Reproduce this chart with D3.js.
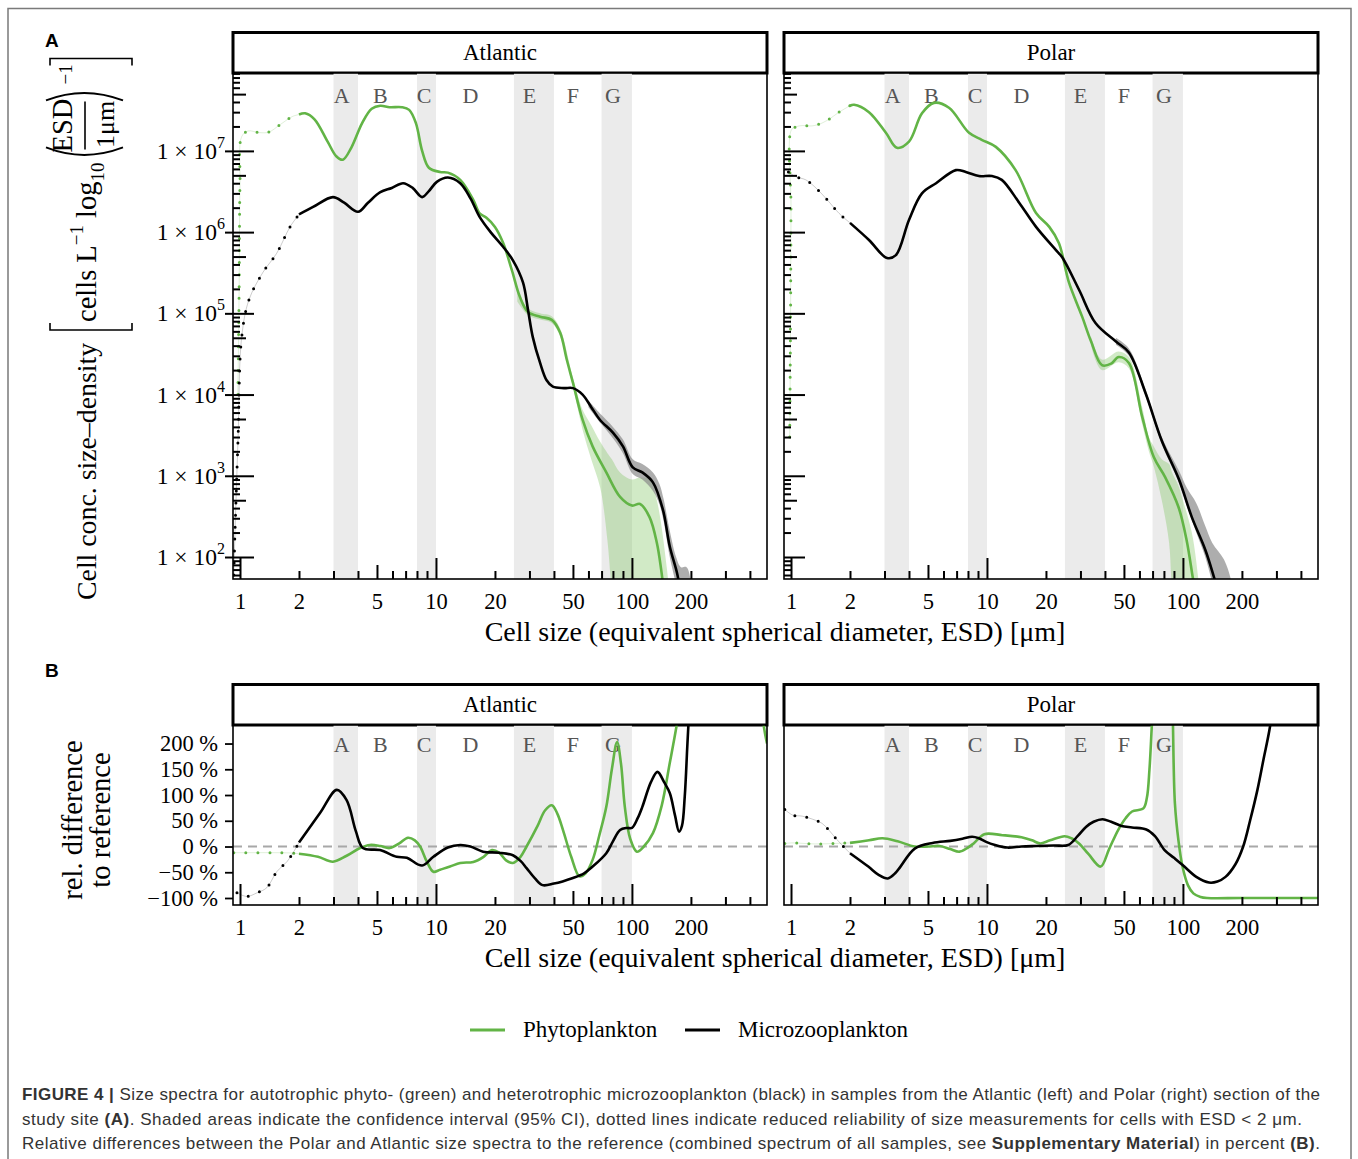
<!DOCTYPE html>
<html>
<head>
<meta charset="utf-8">
<script src="https://cdn.jsdelivr.net/npm/d3@7"></script>
<style>
  body { margin: 0; background: #fff; }
</style>
</head>
<body>
<svg id="fig"></svg>
<script>
// ---------- data ----------
const regions = ["Atlantic", "Polar"];
const sizeClasses = ["A", "B", "C", "D", "E", "F", "G"];
const classLabelAt = [3.3, 5.2, 8.7, 15, 30, 50, 80];
const shadedBands = [[3, 4], [8, 10], [25, 40], [70, 100]];

const xTickLabels = [1, 2, 5, 10, 20, 50, 100, 200];
const xDecadeTicks = [1, 10, 100];
const xMidTicks = [5, 50];
const xMinorTicks = [2, 3, 4, 6, 7, 8, 9, 20, 30, 40, 60, 70, 80, 90, 200, 300, 400];
const yTicksA = [1e2, 1e3, 1e4, 1e5, 1e6, 1e7];
const yTicksB = [-100, -50, 0, 50, 100, 150, 200];

// panel A: [ESD µm, cells L-1]
const atlPhytoDotted = [[0.975, 1e4], [0.99, 2e5], [1.0, 4e6], [1.02, 1.5e7], [1.1, 1.76e7], [1.25, 1.68e7], [1.4, 1.7e7], [1.6, 2.1e7], [1.85, 2.65e7], [2.0, 2.8e7]];
const atlPhytoSolid = [[2.0, 2.8e7], [2.15, 2.9e7], [2.4, 2.45e7], [2.8, 1.3e7], [3.1, 8.6e6], [3.35, 7.8e6], [3.7, 1.1e7], [4.2, 2.2e7], [4.7, 3.3e7], [5.2, 3.6e7], [5.8, 3.45e7], [6.7, 3.45e7], [7.3, 3.2e7], [7.9, 2.2e7], [8.5, 1.0e7], [9.2, 6.2e6], [10.5, 5.5e6], [11.5, 5.4e6], [13.3, 4.4e6], [15.5, 2.5e6], [16.7, 1.7e6], [18.1, 1.5e6], [20, 1.16e6], [22, 7.4e5], [24.4, 3.4e5], [26.8, 1.6e5], [29.5, 1.04e5], [34, 9.1e4], [39, 8.3e4], [43, 5.8e4], [46.5, 2.7e4], [50, 1.4e4], [56, 4.9e3], [63, 2.3e3], [74, 1.1e3], [87, 5.5e2], [100, 4.3e2], [110, 4.5e2], [123, 3.1e2], [134, 1.5e2], [141, 70], [145, 40]];
const atlPhytoCI = [[26, 1.4e5, 1.8e5], [29.5, 0.95e5, 1.15e5], [34, 8.4e4, 1.0e5], [39, 7.6e4, 9.2e4], [43, 5.2e4, 6.5e4], [50, 1.25e4, 1.6e4], [56, 3.7e3, 6.5e3], [62, 1.6e3, 4.2e3], [69, 7e2, 2.6e3], [75, 1.6e2, 1.9e3], [79, 40, 1.6e3], [87, 10, 1.1e3], [100, 10, 9.0e2], [110, 10, 9.5e2], [123, 10, 9.0e2], [134, 10, 5.0e2], [151, 10, 70], [158, 10, 20]];
const atlMicroDotted = [[0.93, 60], [0.94, 1.6e2], [0.977, 2.8e3], [1.02, 5.1e4], [1.11, 1.46e5], [1.31, 3.2e5], [1.54, 5.5e5], [1.8, 1.16e6], [2.0, 1.65e6]];
const atlMicroSolid = [[2.0, 1.65e6], [2.36, 2.04e6], [2.98, 2.7e6], [3.4, 2.3e6], [4.0, 1.78e6], [4.5, 2.3e6], [5.2, 3.1e6], [5.95, 3.5e6], [6.8, 4.0e6], [7.6, 3.5e6], [8.5, 2.7e6], [9.2, 3.2e6], [10.1, 4.15e6], [11.5, 4.7e6], [13.3, 4.0e6], [15, 2.6e6], [16.7, 1.54e6], [19, 1.0e6], [22, 6.6e5], [24.7, 4.5e5], [27.8, 2.4e5], [29.5, 1.1e5], [31.2, 5.1e4], [34, 2.45e4], [36.7, 1.5e4], [39.5, 1.25e4], [45, 1.2e4], [50, 1.2e4], [56, 1.0e4], [62, 7e3], [68.6, 4.9e3], [80, 3.4e3], [90, 2.3e3], [101, 1.27e3], [113, 1.1e3], [128, 8.3e2], [144, 3.8e2], [156, 1.35e2], [170, 63], [176, 40]];
const atlMicroCI = [[60, 7.0e3, 8.4e3], [70, 4.3e3, 5.6e3], [80, 2.9e3, 4.0e3], [90, 1.9e3, 2.8e3], [101, 1.05e3, 1.6e3], [113, 9.0e2, 1.4e3], [128, 6.5e2, 1.1e3], [138, 4.5e2, 8.0e2], [145, 2.8e2, 5.2e2], [156, 1.0e2, 2.1e2], [168, 45, 1.0e2], [178, 20, 75], [190, 10, 75], [200, 10, 50], [205, 10, 30]];

const polPhytoDotted = [[0.985, 3e3], [0.995, 1e5], [1.0, 2e6], [1.003, 1.8e7], [1.06, 1.98e7], [1.14, 2.05e7], [1.28, 2.03e7], [1.44, 2.2e7], [1.6, 2.55e7], [1.76, 3.0e7], [2.0, 3.6e7]];
const polPhytoSolid = [[2.0, 3.6e7], [2.1, 3.7e7], [2.5, 3.0e7], [3.05, 1.67e7], [3.47, 1.09e7], [4.0, 1.3e7], [4.66, 2.9e7], [5.36, 3.9e7], [6.4, 3.4e7], [8.1, 1.67e7], [9.4, 1.37e7], [11.1, 1.12e7], [14.0, 5.8e6], [17.8, 1.72e6], [20.8, 1.16e6], [23.3, 7.3e5], [26.2, 2.4e5], [30.6, 9.1e4], [34, 4.5e4], [38.6, 2.3e4], [43, 2.4e4], [47, 2.9e4], [53, 2.45e4], [62, 5.3e3], [71, 1.7e3], [81, 9.7e2], [95, 4.1e2], [104.5, 1.6e2], [112, 58], [116, 35]];
const polPhytoCI = [[34, 4.0e4, 5.2e4], [38.6, 2.0e4, 2.7e4], [47, 2.5e4, 3.4e4], [53, 2.1e4, 2.9e4], [62, 4.3e3, 7e3], [67, 2.0e3, 3.0e3], [71, 1.3e3, 2.3e3], [78, 5e2, 1.6e3], [85, 1.5e2, 1.4e3], [88, 40, 1.1e3], [95, 10, 7.5e2], [99, 10, 5.4e2], [111, 10, 2.0e2], [120, 10, 52], [124, 10, 20]];
const polMicroDotted = [[0.97, 5.5e6], [1.06, 4.8e6], [1.19, 4.4e6], [1.34, 3.5e6], [1.53, 2.5e6], [1.76, 1.7e6], [2.0, 1.3e6]];
const polMicroSolid = [[2.0, 1.3e6], [2.5, 8.0e5], [3.09, 4.8e5], [3.43, 5.2e5], [4.0, 1.41e6], [4.66, 3.0e6], [5.5, 4.0e6], [6.94, 5.8e6], [7.8, 5.5e6], [9.1, 4.9e6], [10.6, 4.9e6], [11.9, 4.4e6], [14.6, 2.3e6], [17.8, 1.16e6], [22.5, 6.0e5], [24.2, 4.9e5], [29.5, 1.95e5], [35.8, 7.6e4], [45.5, 4.5e4], [53, 3.3e4], [64.5, 1.04e4], [78, 2.7e3], [95.5, 9.0e2], [111, 3.1e2], [130, 1.23e2], [143, 60], [150, 40]];
const polMicroCI = [[45.5, 4.1e4, 5.0e4], [53, 3.0e4, 3.7e4], [64.5, 9.5e3, 1.15e4], [78, 2.45e3, 3.0e3], [95.5, 8.2e2, 1.15e3], [105, 4.2e2, 7.0e2], [117, 2.0e2, 4.6e2], [130, 1.0e2, 2.4e2], [141, 50, 1.5e2], [162, 20, 93], [176, 10, 52], [182, 10, 30]];

// panel B: [ESD µm, rel. difference %]
const relAtlPhytoDotted = [[0.93, -12], [1.2, -12], [1.5, -12], [1.8, -12.5], [2.0, -14]];
const relAtlPhytoSolid = [[2.0, -14], [2.5, -20], [2.98, -29.5], [3.5, -18], [4.1, -3], [4.6, 3], [5.2, 1], [5.8, -3], [6.5, 6], [7.2, 17], [7.8, 12], [8.3, 0], [9.0, -30], [9.7, -49], [10.5, -45], [11.8, -39], [13.3, -32], [15.5, -30], [17.5, -20], [19.3, -7], [21, -12], [22.8, -27], [24.7, -32], [27, -20], [29, 0], [33, 40], [36, 70], [39, 80], [41.5, 65], [44.5, 32], [49, -20], [54, -58], [58, -52], [63, -26], [68, 20], [74, 77], [79, 150], [84, 203], [88, 160], [92, 77], [98, 15], [106, -10], [115, 0], [128, 26], [142, 80], [156, 162], [170, 240], [185, 330], [440, 330], [470, 236], [489, 200]];
const relAtlMicroDotted = [[0.965, -90], [1.085, -97], [1.22, -90], [1.37, -80], [1.54, -49], [1.74, -29], [1.86, -13], [2.0, 8]];
const relAtlMicroSolid = [[2.0, 8], [2.56, 65], [3.12, 110], [3.5, 90], [3.9, 30], [4.24, -3], [5.18, -7], [6.3, -20], [7.1, -22], [8.5, -37], [9.7, -20], [11.5, -2], [13.3, 3], [15, 0], [17.4, -10], [21, -12], [24.7, -17], [27, -28], [29, -42], [32, -62], [35, -75], [40, -72], [50, -61], [57, -52], [63, -39], [74, -13], [80, 10], [87, 32], [94, 36], [100, 36], [107, 55], [113, 77], [125, 125], [135, 145], [146, 125], [156, 104], [166, 60], [174, 29], [180, 40], [186, 97], [192, 200], [200, 330], [210, 500]];
const relPolPhytoDotted = [[0.93, 6], [1.02, 7], [1.32, 5], [1.7, 6], [2.0, 7]];
const relPolPhytoSolid = [[2.0, 7], [2.5, 12], [2.93, 16], [3.5, 10], [4.28, 0], [5.0, 0], [5.74, 1], [6.5, -5], [7.24, -10], [8.0, -2], [8.55, 6], [9.7, 24], [12, 22], [15, 18], [17, 12], [18.6, 6], [21, 12], [24.9, 20], [27, 16], [29.5, 6], [33, -15], [38, -39], [42, -5], [46.7, 32], [51, 55], [55, 68], [62.8, 74], [65.5, 95], [67.5, 150], [70, 260], [75, 420], [84, 420], [88, 300], [91, 84], [95, 10], [99.5, -39], [106, -75], [113, -91], [123, -98], [133, -100], [200, -100], [489, -100]];
const relPolMicroDotted = [[0.93, 72], [1.02, 61], [1.14, 59], [1.29, 53], [1.44, 45], [1.56, 32], [1.70, 15], [1.85, 0], [2.0, -13]];
const relPolMicroSolid = [[2.0, -13], [2.48, -39], [2.8, -55], [3.12, -62], [3.4, -52], [3.62, -39], [4.28, -4], [5.28, 7], [6.5, 11], [7.5, 15], [8.4, 19], [9.1, 16], [9.9, 9], [11, 3], [12.7, -2], [15, 0], [17.8, 1], [22, 2], [26, 3], [29, 20], [32, 38], [35, 48], [38.9, 53], [43, 48], [48.6, 40], [55, 37], [65, 33], [72, 20], [80.6, -7], [90, -22], [99.6, -36], [117, -59], [136, -70], [150, -68], [165, -59], [185, -35], [203, 0], [220, 50], [240, 110], [258, 170], [278, 232], [300, 330]];

const legendLabels = ["Phytoplankton", "Microzooplankton"];
const captionLines = [
  [["FIGURE 4 | ", true], ["Size spectra for autotrophic phyto- (green) and heterotrophic microzooplankton (black) in samples from the Atlantic (left) and Polar (right) section of the", false]],
  [["study site ", false], ["(A)", true], [". Shaded areas indicate the confidence interval (95% CI), dotted lines indicate reduced reliability of size measurements for cells with ESD < 2 \u03bcm.", false]],
  [["Relative differences between the Polar and Atlantic size spectra to the reference (combined spectrum of all samples, see ", false], ["Supplementary Material", true], [") in percent ", false], ["(B)", true], [".", false]]
];
const captionWidths = [1298, 1280, 1298];

// ---------- setup ----------
const W = 1358, H = 1159;
const serif = "'Liberation Serif','Times New Roman',serif";
const sans = "'Liberation Sans',Arial,sans-serif";
const green = "#62b446";

const svg = d3.select("#fig").attr("width", W).attr("height", H);
svg.append("rect").attr("width", W).attr("height", H).attr("fill", "#fff");
// outer frame of the figure
svg.append("path").attr("d", `M8,${H + 5}V8.5H1351V${H + 5}`)
  .attr("fill", "none").attr("stroke", "#7a7a7a").attr("stroke-width", 1.5);

const panelX = [233, 784], panelW = 534;
const rowA = { stripTop: 31, top: 73, bottom: 579 };
const rowB = { stripTop: 683, top: 725, bottom: 905 };

const x = d3.scaleLog().domain([0.921, 489]).range([0, panelW]);
const yA = d3.scaleLog().domain([53.6, 9.1e7]).range([rowA.bottom - rowA.top, 0]);
const yB = d3.scaleLinear().domain([-113.6, 236]).range([rowB.bottom - rowB.top, 0]);

const panelA = [
  { phytoDot: atlPhytoDotted, phyto: atlPhytoSolid, phytoCI: atlPhytoCI, microDot: atlMicroDotted, micro: atlMicroSolid, microCI: atlMicroCI },
  { phytoDot: polPhytoDotted, phyto: polPhytoSolid, phytoCI: polPhytoCI, microDot: polMicroDotted, micro: polMicroSolid, microCI: polMicroCI }
];
const panelB = [
  { phytoDot: relAtlPhytoDotted, phyto: relAtlPhytoSolid, microDot: relAtlMicroDotted, micro: relAtlMicroSolid },
  { phytoDot: relPolPhytoDotted, phyto: relPolPhytoSolid, microDot: relPolMicroDotted, micro: relPolMicroSolid }
];

const defs = svg.append("defs");

function drawPanel(row, i, y, series, key) {
  const h = row.bottom - row.top;
  const x0 = panelX[i];

  // strip
  svg.append("rect").attr("x", x0).attr("y", row.stripTop + 1.5)
    .attr("width", panelW).attr("height", row.top - row.stripTop - 1.5)
    .attr("fill", "#fff").attr("stroke", "#000").attr("stroke-width", 3);
  svg.append("text").attr("x", x0 + panelW / 2).attr("y", row.stripTop + 29)
    .attr("text-anchor", "middle").attr("font-family", serif).attr("font-size", 23)
    .text(regions[i]);

  const g = svg.append("g").attr("transform", `translate(${x0},${row.top})`);
  const clipId = `clip-${key}-${i}`;
  defs.append("clipPath").attr("id", clipId)
    .append("rect").attr("width", panelW).attr("height", h);
  const inner = g.append("g").attr("clip-path", `url(#${clipId})`);

  inner.selectAll("rect.band").data(shadedBands).join("rect").attr("class", "band")
    .attr("x", d => x(d[0])).attr("width", d => x(d[1]) - x(d[0]))
    .attr("y", 0).attr("height", h).attr("fill", "#ebebeb");

  inner.selectAll("text.cls").data(sizeClasses).join("text").attr("class", "cls")
    .attr("x", (d, k) => x(classLabelAt[k])).attr("y", key === "A" ? 30 : 27)
    .attr("text-anchor", "middle").attr("font-family", serif).attr("font-size", 22)
    .attr("fill", "#555").text(d => d);

  const curve = d3.curveCatmullRom.alpha(0.5);
  const line = d3.line().x(d => x(d[0])).y(d => y(d[1])).curve(curve);
  const area = d3.area().x(d => x(d[0])).y0(d => y(d[1])).y1(d => y(d[2])).curve(curve);

  if (series.phytoCI) {
    inner.append("path").attr("d", area(series.phytoCI)).attr("fill", "#7cc35c").attr("opacity", 0.35);
    inner.append("path").attr("d", area(series.microCI)).attr("fill", "#8a8a8a").attr("opacity", 0.7);
  }
  if (key === "B") {
    inner.append("line").attr("x1", 0).attr("x2", panelW).attr("y1", y(0)).attr("y2", y(0))
      .attr("stroke", "#a8a8a8").attr("stroke-width", 2.2).attr("stroke-dasharray", "9,6");
  }

  [[series.phytoDot, green], [series.microDot, "#000"]].forEach(([d, c]) => {
    inner.append("path").attr("d", line(d)).attr("fill", "none")
      .attr("stroke", c).attr("stroke-width", 0.8).attr("opacity", 0.25);
    inner.append("path").attr("d", line(d)).attr("fill", "none")
      .attr("stroke", c).attr("stroke-width", 3).attr("stroke-linecap", "round")
      .attr("stroke-dasharray", "0,12");
  });
  inner.append("path").attr("d", line(series.phyto)).attr("fill", "none")
    .attr("stroke", green).attr("stroke-width", 2.6);
  inner.append("path").attr("d", line(series.micro)).attr("fill", "none")
    .attr("stroke", "#000").attr("stroke-width", 2.6);

  g.append("rect").attr("width", panelW).attr("height", h)
    .attr("fill", "none").attr("stroke", "#000").attr("stroke-width", 1.6);

  // x ticks point inward from the bottom spine
  const xTicks = (vals, len) => g.append("g").attr("transform", `translate(0,${h})`)
    .call(d3.axisBottom(x).tickValues(vals).tickSize(-len).tickFormat(""))
    .call(a => a.select(".domain").remove())
    .call(a => a.selectAll("line").attr("stroke", "#000").attr("stroke-width", 2));
  xTicks(xDecadeTicks, 21);
  xTicks(xMidTicks, 14);
  xTicks(xMinorTicks, 8);
  g.append("g").attr("transform", `translate(0,${h})`)
    .call(d3.axisBottom(x).tickValues(xTickLabels).tickSize(0).tickPadding(14).tickFormat(d3.format("d")))
    .call(a => a.select(".domain").remove())
    .call(a => a.selectAll("text").attr("font-family", serif).attr("font-size", 22.5).attr("fill", "#000"));

  if (key === "A") {
    const yTicks = (vals, len) => g.append("g")
      .call(d3.axisLeft(y).tickValues(vals).tickSize(len).tickFormat(""))
      .call(a => a.select(".domain").remove())
      .call(a => a.selectAll("line").attr("stroke", "#000").attr("stroke-width", 2));
    const [lo, hi] = y.domain();
    const mids = [], minors = [];
    for (let e = 1; e <= 7; e++) {
      for (let m = 2; m <= 9; m++) {
        const v = m * Math.pow(10, e);
        if (v < lo || v > hi) continue;
        (m === 5 ? mids : minors).push(v);
      }
    }
    yTicks(yTicksA, -21);
    yTicks(mids, -13);
    yTicks(minors, -7);
    if (i === 0) {
      yTicks(yTicksA, 8);
      const lab = g.selectAll("text.ylab").data(yTicksA).join("text").attr("class", "ylab")
        .attr("x", -8).attr("y", d => y(d) + 8).attr("text-anchor", "end")
        .attr("font-family", serif).attr("font-size", 23.5);
      lab.append("tspan").text("1 \u00d7 10");
      lab.append("tspan").attr("dy", -11).attr("font-size", 16).text(d => Math.round(Math.log10(d)));
    }
  } else if (i === 0) {
    g.append("g")
      .call(d3.axisLeft(y).tickValues(yTicksB).tickSize(8).tickPadding(7).tickFormat(d => `${d} %`.replace("-", "\u2212")))
      .call(a => a.select(".domain").remove())
      .call(a => a.selectAll("line").attr("stroke", "#000").attr("stroke-width", 1.8))
      .call(a => a.selectAll("text").attr("font-family", serif).attr("font-size", 22.5).attr("fill", "#000"));
  }
}

panelA.forEach((s, i) => drawPanel(rowA, i, yA, s, "A"));
panelB.forEach((s, i) => drawPanel(rowB, i, yB, s, "B"));

// panel letters
svg.append("text").attr("x", 45).attr("y", 47).attr("font-family", sans)
  .attr("font-weight", "bold").attr("font-size", 19).text("A");
svg.append("text").attr("x", 45).attr("y", 677).attr("font-family", sans)
  .attr("font-weight", "bold").attr("font-size", 19).text("B");

// x axis titles
const xTitle = "Cell size (equivalent spherical diameter, ESD) [\u03bcm]";
[641, 967].forEach(yy => svg.append("text").attr("x", 775).attr("y", yy)
  .attr("text-anchor", "middle").attr("font-family", serif).attr("font-size", 28).text(xTitle));

// y title, panel A
const ty = svg.append("g").attr("transform", "translate(96,600) rotate(-90)")
  .attr("font-family", serif).attr("font-size", 28.5);
ty.append("text").attr("font-size", 27.8).text("Cell conc. size\u2013density");
ty.append("path").attr("d", "M277,-46H270V36H277")
  .attr("fill", "none").attr("stroke", "#000").attr("stroke-width", 1.6);
const t2 = ty.append("text").attr("x", 278).attr("y", 0);
t2.append("tspan").text("cells L");
t2.append("tspan").attr("dy", -13).attr("font-size", 19).text("\u22121");
t2.append("tspan").attr("dy", 13).text(" log");
t2.append("tspan").attr("dy", 8).attr("font-size", 19).text("10");
const e = 278 + t2.node().getComputedTextLength();
ty.append("path").attr("d", `M${e + 15},-50Q${e},-12 ${e + 15},27`)
  .attr("fill", "none").attr("stroke", "#000").attr("stroke-width", 1.9);
ty.append("text").attr("x", e + 37).attr("y", -24).attr("text-anchor", "middle").text("ESD");
ty.append("line").attr("x1", e + 13).attr("x2", e + 61).attr("y1", -11).attr("y2", -11)
  .attr("stroke", "#000").attr("stroke-width", 1.6);
ty.append("text").attr("x", e + 38).attr("y", 18).attr("text-anchor", "middle")
  .attr("font-size", 26).text("1\u03bcm");
ty.append("path").attr("d", `M${e + 62},-50Q${e + 77},-12 ${e + 62},27`)
  .attr("fill", "none").attr("stroke", "#000").attr("stroke-width", 1.9);
ty.append("text").attr("x", e + 78).attr("y", -24).attr("font-size", 19).text("\u22121");
ty.append("path").attr("d", `M${e + 97},-46H${e + 104}V36H${e + 97}`)
  .attr("fill", "none").attr("stroke", "#000").attr("stroke-width", 1.6);

// y title, panel B
const tb = svg.append("g").attr("transform", "translate(82,820) rotate(-90)")
  .attr("font-family", serif).attr("font-size", 28.5).attr("text-anchor", "middle");
tb.append("text").attr("y", 0).text("rel. difference");
tb.append("text").attr("y", 28).text("to reference");

// legend
const legend = svg.append("g").attr("font-family", serif).attr("font-size", 23);
[[470, green], [685, "#000"]].forEach(([lx, c], k) => {
  legend.append("line").attr("x1", lx).attr("x2", lx + 35).attr("y1", 1030).attr("y2", 1030)
    .attr("stroke", c).attr("stroke-width", 3);
  legend.append("text").attr("x", lx + 53).attr("y", 1037).text(legendLabels[k]);
});

// caption
captionLines.forEach((parts, k) => {
  const t = svg.append("text").attr("x", 22).attr("y", 1100 + k * 24.5)
    .attr("font-family", sans).attr("font-size", 17).attr("fill", "#333")
    .attr("textLength", captionWidths[k]).attr("lengthAdjust", "spacing");
  parts.forEach(([s, b]) => t.append("tspan").attr("font-weight", b ? "bold" : null).text(s));
});
</script>
</body>
</html>
